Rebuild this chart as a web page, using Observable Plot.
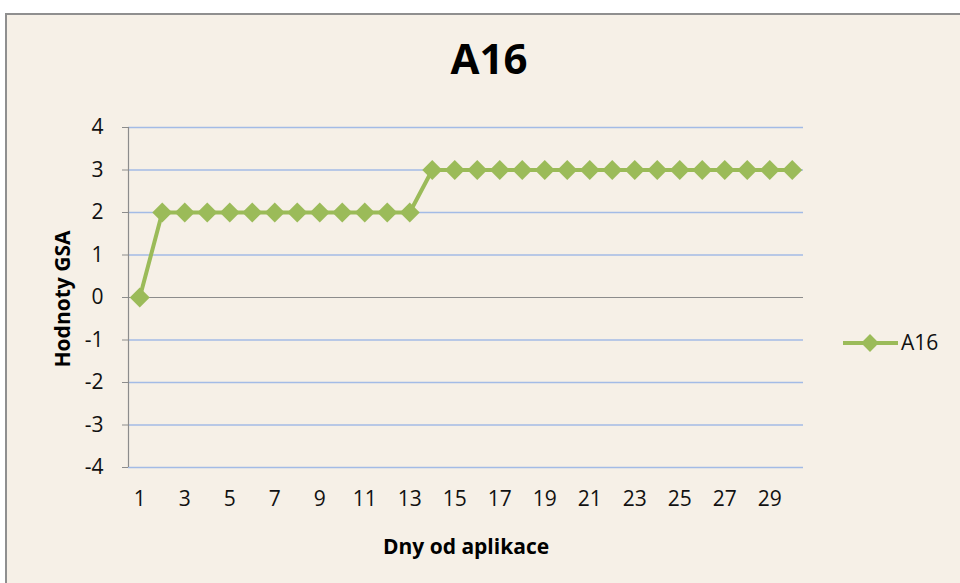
<!DOCTYPE html>
<html>
<head>
<meta charset="utf-8">
<script src="https://cdn.jsdelivr.net/npm/d3@7"></script>
<script src="https://cdn.jsdelivr.net/npm/@observablehq/plot@0.6"></script>
<style>
  body { margin: 0; background: #ffffff; }
  #wrap { position: relative; width: 960px; height: 583px; overflow: hidden; font-family: "Open Sans", sans-serif; color: #000; }
  #frame { position: absolute; left: 5px; top: 13px; width: 1000px; height: 620px; background: #f6f0e7; border-left: 2px solid #8f8f8f; border-top: 2px solid #8f8f8f; }
  #title { position: absolute; left: 389px; width: 200px; top: 37px; text-align: center; font-weight: bold; font-size: 42px; line-height: 1; }
  #ytitle { position: absolute; left: 62px; top: 299px; transform: translate(-50%, -50%) rotate(-90deg); font-weight: bold; font-size: 21px; white-space: nowrap; }
  #xtitle { position: absolute; left: 466px; top: 546px; transform: translate(-50%, -50%); font-weight: bold; font-size: 21px; white-space: nowrap; }
  #chart { position: absolute; left: 0; top: 0; }
  #legend { position: absolute; left: 840px; top: 328px; }
</style>
</head>
<body>
<div id="wrap">
  <div id="frame"></div>
  <div id="title">A16</div>
  <div id="chart"></div>
  <div id="ytitle">Hodnoty GSA</div>
  <div id="xtitle">Dny od aplikace</div>
  <div id="legend"></div>
</div>
<script>
// Days since application and the GSA score recorded for each day
const days = [1,2,3,4,5,6,7,8,9,10,11,12,13,14,15,16,17,18,19,20,21,22,23,24,25,26,27,28,29,30];
const gsa  = [0,2,2,2,2,2,2,2,2,2,2,2,2,3,3,3,3,3,3,3,3,3,3,3,3,3,3,3,3,3];
const seriesName = "A16";
const xTicks = [1,3,5,7,9,11,13,15,17,19,21,23,25,27,29];
const yTicks = [-4,-3,-2,-1,0,1,2,3,4];

const green = "#9bbb59";
const data = days.map((d, i) => ({day: d, value: gsa[i]}));

const chart = Plot.plot({
  width: 960,
  height: 583,
  marginLeft: 128,
  marginRight: 157,
  marginTop: 127,
  marginBottom: 116,
  style: { background: "transparent", fontFamily: "Open Sans, sans-serif" },
  x: { domain: [0.5, 30.5] },
  y: { domain: [-4, 4] },
  marks: [
    Plot.ruleY(yTicks.filter(v => v !== 0), { stroke: "#a3bbe6", strokeWidth: 1.5 }),
    Plot.ruleY([0], { stroke: "#8c8c8c", strokeWidth: 1.2 }),
    Plot.ruleX([0.5], { stroke: "#8c8c8c", strokeWidth: 1.2 }),
    Plot.axisY({ ticks: yTicks, tickFormat: d => String(d), tickSize: 6, tickPadding: 19, fontSize: 21, stroke: "#8c8c8c", fill: "#111", label: null }),
    Plot.axisX({ ticks: xTicks, tickFormat: d => String(d), tickSize: 0, tickPadding: 24, fontSize: 21, fill: "#111", label: null }),
    Plot.line(data, { x: "day", y: "value", stroke: green, strokeWidth: 4 }),
    Plot.dot(data, { x: "day", y: "value", symbol: "diamond2", r: 9, fill: green, stroke: "none" })
  ]
});
document.getElementById("chart").append(chart);

// Legend entry: line with a diamond and the series name
const lg = d3.select("#legend").append("svg").attr("width", 120).attr("height", 30);
lg.append("line").attr("x1", 3).attr("x2", 58).attr("y1", 15).attr("y2", 15)
  .attr("stroke", green).attr("stroke-width", 4);
lg.append("path").attr("transform", "translate(30,15)")
  .attr("d", d3.symbol(d3.symbolDiamond2, Math.PI * 8 * 8)()).attr("fill", green);
lg.append("text").attr("x", 61).attr("y", 22).attr("font-size", 21)
  .attr("font-family", "Open Sans, sans-serif").attr("fill", "#111").text(seriesName);
</script>
</body>
</html>
